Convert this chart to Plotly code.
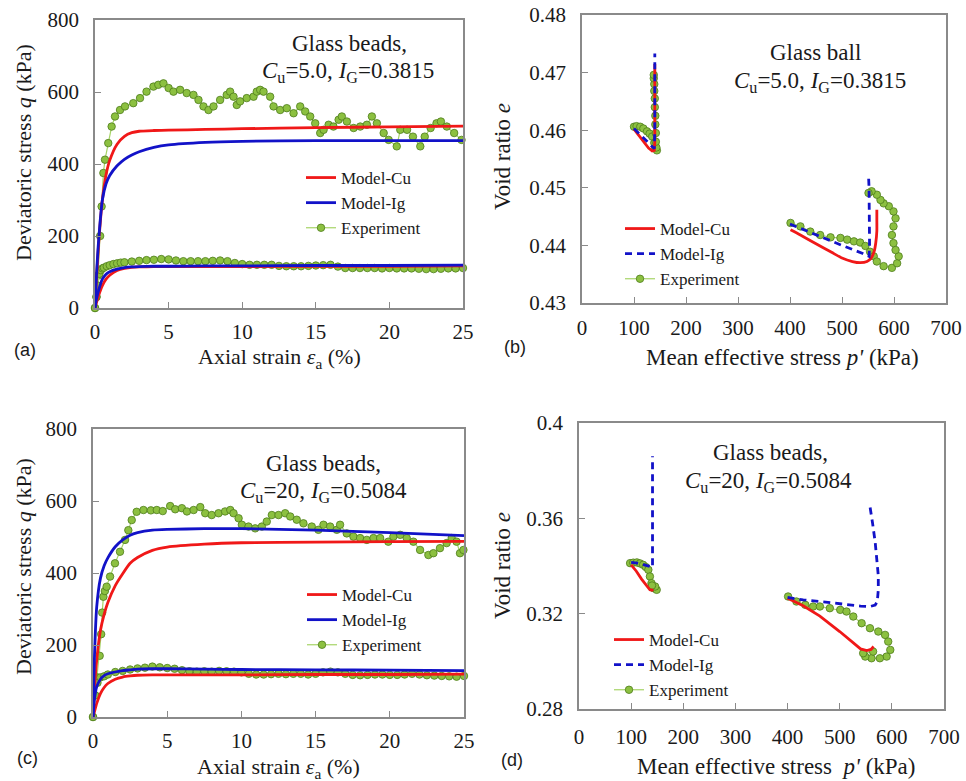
import plotly.graph_objects as go

W, H = 966, 781

# ---------------- Panel (a): q vs axial strain, Cu=5.0 ----------------
A_MOD_EPS = [0, 0.1, 0.25, 0.5, 0.75, 1, 1.5, 2, 2.5, 3, 4, 5, 7.5, 10, 15, 20, 25]
A_CU_HI = [0, 80, 180, 300, 370, 410, 455, 477, 487, 491, 493, 494, 496, 498, 501, 503, 505]
A_IG_HI = [0, 90, 190, 300, 345, 368, 395, 413, 425, 434, 446, 453, 460, 463, 465, 465, 465]
A_CU_LO = [0, 15, 35, 62, 80, 91, 104, 110, 113, 114, 115, 115, 115, 115, 116, 116, 117]
A_IG_LO = [0, 25, 50, 80, 94, 101, 108, 112, 114, 115, 116, 116, 117, 117, 118, 118, 119]

A_EXP_HI_EPS = [0, 0.1, 0.2, 0.35, 0.45, 0.57, 0.68, 0.9, 1.13, 1.36, 1.7, 2.04, 2.6, 3.06, 3.5,
                3.97, 4.3, 4.65, 5.0, 5.33, 5.78, 6.23, 6.69, 7.03, 7.37, 7.71, 8.05, 8.5, 8.95, 9.18,
                9.41, 9.63, 9.86, 10.31, 10.77, 10.99, 11.22, 11.45, 11.9, 12.13, 12.58, 13.03, 13.49,
                13.94, 14.28, 14.62, 14.96, 15.3, 15.53, 15.87, 16.2, 16.55, 16.77, 17.11, 17.57, 18.02,
                18.47, 18.81, 19.15, 19.61, 19.95, 20.5, 20.74, 21.2, 21.6, 22.1, 22.4, 22.8, 23.2, 23.5,
                23.9, 24.4, 24.9]
A_EXP_HI_Q = [0, 30, 90, 200, 282, 375, 412, 458, 504, 532, 550, 560, 569, 583, 601,
              615, 620, 624, 611, 601, 606, 597, 592, 578, 560, 550, 560, 578, 592, 601,
              587, 564, 574, 583, 587, 601, 606, 601, 587, 560, 550, 555, 541,
              560, 546, 532, 513, 486, 495, 509, 504, 523, 532, 518, 500, 504,
              509, 532, 513, 486, 467, 449, 495, 495, 476, 449, 476, 500, 513, 518,
              504, 486, 467]
A_EXP_LO_EPS = [0, 0.1, 0.2, 0.3, 0.4, 0.5, 0.6, 0.8, 1.0, 1.25, 1.5, 1.75, 2, 2.5, 3, 3.5, 4, 4.5,
                5, 5.5, 6, 6.5, 7, 7.5, 8, 8.5, 9, 9.5, 10, 10.5, 11, 11.5, 12, 12.5, 13, 13.5, 14,
                14.5, 15, 15.5, 16, 16.5, 17, 17.5, 18, 18.5, 19, 19.5, 20, 20.5, 21, 21.5, 22, 22.5,
                23, 23.5, 24, 24.5, 25]
A_EXP_LO_Q = [0, 32, 62, 95, 105, 110, 112, 116, 119, 122, 124, 126, 127, 129, 131, 133, 134, 136,
              135, 132, 130, 130, 130, 130, 131, 132, 130, 125, 122, 120, 120, 120, 120, 117, 116, 116, 116,
              117, 118, 119, 120, 115, 111, 111, 111, 111, 111, 110, 111, 110, 110, 110, 109, 108,
              108, 109, 110, 110, 111]

# ---------------- Panel (b): e vs p', Cu=5.0 ----------------
B_CU_LO_P = [100, 110, 120, 128, 135, 139, 140, 140, 140, 140]
B_CU_LO_E = [0.4602, 0.4590, 0.4578, 0.4569, 0.4564, 0.4565, 0.4580, 0.4620, 0.4680, 0.4715]
B_IG_LO_P = [100, 120, 139, 140, 140, 140]
B_IG_LO_E = [0.4603, 0.4585, 0.4568, 0.4600, 0.4680, 0.4733]
B_CU_HI_P = [401, 420, 450, 480, 500, 520, 535, 548, 556, 562, 565, 567, 567, 567]
B_CU_HI_E = [0.4427, 0.4418, 0.4403, 0.4388, 0.4378, 0.4372, 0.4370, 0.4372, 0.4378, 0.4390,
             0.4405, 0.4425, 0.4445, 0.4462]
B_IG_HI_P = [400, 450, 500, 540, 552, 553, 553, 552, 551]
B_IG_HI_E = [0.4437, 0.4418, 0.4400, 0.4386, 0.4381, 0.4400, 0.4450, 0.4500, 0.4522]
B_EXP_LO_P = [100, 105, 112, 118, 125, 130, 135, 139, 141, 144, 143, 142, 142, 141, 141, 140,
              140, 139, 139, 138, 138]
B_EXP_LO_E = [0.4606, 0.4607, 0.4606, 0.4603, 0.4598, 0.4594, 0.4589, 0.4578, 0.4569, 0.4565,
              0.4570, 0.4580, 0.4595, 0.4610, 0.4625, 0.4640, 0.4655, 0.4668, 0.4680, 0.4690, 0.4696]
B_EXP_HI_P = [401, 420, 439, 458, 478, 497, 510, 523, 535, 545, 554, 561, 567, 580, 596, 606, 609,
              603, 599, 596, 599, 603, 599, 590, 580, 574, 567, 557, 551]
B_EXP_HI_E = [0.4439, 0.4433, 0.4424, 0.4418, 0.4414, 0.4413, 0.4410, 0.4407, 0.4405, 0.4399,
              0.4389, 0.4381, 0.4372, 0.4364, 0.4361, 0.4369, 0.4381, 0.4392, 0.4404, 0.4418,
              0.4433, 0.4447, 0.4459, 0.4468, 0.4473, 0.4479, 0.4488, 0.4494, 0.4491]

# ---------------- Panel (c): q vs axial strain, Cu=20 ----------------
C_MOD_EPS = [0, 0.1, 0.25, 0.5, 0.75, 1, 1.5, 2, 2.5, 3, 4, 5, 7.5, 10, 15, 20, 25]
C_CU_HI = [0, 80, 158, 240, 285, 318, 365, 398, 427, 443, 463, 472, 480, 484, 486, 487, 488]
C_IG_HI = [0, 170, 306, 385, 420, 442, 473, 492, 505, 512, 519, 521, 523, 523, 519, 512, 504]
C_CU_LO = [0, 15, 38, 65, 82, 93, 105, 111, 114, 116, 117, 117, 117, 117, 118, 118, 119]
C_IG_LO = [0, 50, 84, 105, 115, 120, 125, 129, 131, 133, 134, 134, 133, 132, 131, 130, 129]

C_EXP_HI_EPS = [0, 0.15, 0.3, 0.45, 0.55, 0.62, 0.7, 0.8, 0.92, 1.15, 1.48, 1.82, 2.16, 2.38, 2.61,
                2.94, 3.4, 3.9, 4.3, 4.7, 5.2, 5.54, 5.99, 6.33, 6.78, 7.23, 7.56, 8.0, 8.46, 8.9,
                9.25, 9.47, 9.81, 10.03, 10.48, 10.93, 11.38, 11.71, 12.05, 12.5, 12.95, 13.29, 13.73,
                14.18, 14.74, 15.19, 15.53, 15.98, 16.43, 16.65, 17.1, 17.55, 18.0, 18.45, 18.9, 19.35,
                19.9, 20.24, 20.7, 21.14, 21.59, 22.04, 22.6, 22.94, 23.38, 23.83, 24.17, 24.5, 24.73,
                24.96]
C_EXP_HI_Q = [0, 60, 110, 170, 230, 290, 334, 350, 362, 390, 427, 459, 492, 519, 547,
              570, 575, 574, 575, 572, 586, 577, 580, 571, 575, 583, 566, 561, 566, 571,
              575, 566, 552, 534, 529, 524, 529, 543, 561, 561, 566, 557, 548,
              538, 529, 520, 534, 529, 520, 534, 510, 501, 497, 492, 497, 497,
              487, 501, 506, 497, 487, 464, 450, 455, 469, 483, 497, 487, 455,
              464]
C_EXP_LO_EPS = [0, 0.15, 0.3, 0.5, 0.75, 1, 1.5, 2, 2.5, 3, 3.5, 4, 4.5, 5, 5.5, 6, 6.5, 7, 7.5, 8,
                8.5, 9, 9.5, 10, 10.5, 11, 11.5, 12, 12.5, 13, 13.5, 14, 14.5, 15, 15.5, 16, 16.5, 17,
                17.5, 18, 18.5, 19, 19.5, 20, 20.5, 21, 21.5, 22, 22.5, 23, 23.5, 24, 24.5, 25]
C_EXP_LO_Q = [0, 60, 95, 110, 113, 118, 125, 128, 132, 135, 137, 140, 138, 136, 134, 130, 127, 126,
              127, 126, 128, 127, 126, 124, 120, 118, 118, 119, 120, 119, 120, 120, 118, 120, 124, 126,
              124, 120, 117, 116, 117, 118, 118, 117, 117, 118, 120, 118, 116, 115, 114, 113, 112, 114]

# ---------------- Panel (d): e vs p', Cu=20 ----------------
D_CU_LO_P = [100, 110, 120, 130, 136, 140, 142]
D_CU_LO_E = [0.3405, 0.3378, 0.3345, 0.3315, 0.3300, 0.3298, 0.3303]
D_IG_LO_P = [100, 112, 125, 135, 141, 141, 141, 141]
D_IG_LO_E = [0.3415, 0.3412, 0.3405, 0.3400, 0.3395, 0.3500, 0.3700, 0.3860]
D_CU_HI_P = [400, 430, 462, 500, 540, 552, 560, 565]
D_CU_HI_E = [0.3265, 0.3233, 0.3190, 0.3125, 0.3052, 0.3045, 0.3050, 0.3062]
D_IG_HI_P = [400, 430, 462, 513, 540, 558, 568, 572, 574, 574, 572, 568, 563, 558]
D_IG_HI_E = [0.3268, 0.3258, 0.3251, 0.3237, 0.3232, 0.3230, 0.3236, 0.3250, 0.3300, 0.3360,
             0.3420, 0.3500, 0.3580, 0.3650]
D_EXP_LO_P = [98, 104, 111, 117, 123, 128, 133, 136, 139, 143, 149, 146, 140]
D_EXP_LO_E = [0.3412, 0.3414, 0.3415, 0.3411, 0.3405, 0.3396, 0.3384, 0.3356, 0.3328, 0.3307,
              0.3300, 0.3314, 0.3318]
D_EXP_HI_P = [401, 417, 434, 449, 462, 481, 501, 513, 526, 542, 558, 574, 587, 593, 597, 590,
              577, 561, 549, 545, 564]
D_EXP_HI_E = [0.3272, 0.3251, 0.3237, 0.3230, 0.3230, 0.3223, 0.3216, 0.3209, 0.3188, 0.3160,
              0.3139, 0.3125, 0.3111, 0.3083, 0.3048, 0.3020, 0.3013, 0.3013, 0.3020, 0.3034, 0.3041]

# ---------------- style ----------------
RED = "#f01818"
BLUE = "#1212c8"
GREEN = "#8cc040"
GREEN_EDGE = "#4e7c1c"
GREEN_LINE = "#a6d466"
SERIF = "Liberation Serif"
SANS = "Liberation Sans"
TXT = "#1a1a1a"

fig = go.Figure()


def model(x, y, name, color, ax, legend, show, dash="solid", rank=1):
    fig.add_trace(go.Scatter(
        x=x, y=y, mode="lines", name=name,
        line=dict(color=color, width=2.8, dash=dash, shape="spline", smoothing=0.6),
        xaxis=ax[0], yaxis=ax[1], legend=legend, showlegend=show, legendrank=rank, hoverinfo="skip"))


def model_lin(x, y, name, color, ax, legend, show, dash="solid", rank=1):
    fig.add_trace(go.Scatter(
        x=x, y=y, mode="lines", name=name, line=dict(color=color, width=2.8, dash=dash),
        xaxis=ax[0], yaxis=ax[1], legend=legend, showlegend=show, legendrank=rank, hoverinfo="skip"))


def exp(x, y, ax, legend, show):
    fig.add_trace(go.Scatter(
        x=x, y=y, mode="lines+markers", name="Experiment",
        line=dict(color=GREEN_LINE, width=1.2),
        marker=dict(size=7.5, color=GREEN, line=dict(color=GREEN_EDGE, width=0.8)),
        xaxis=ax[0], yaxis=ax[1], legend=legend, showlegend=show, legendrank=3,
        cliponaxis=False, hoverinfo="skip"))


# (a)
ax = ("x", "y")
exp(A_EXP_HI_EPS, A_EXP_HI_Q, ax, "legend", True)
exp(A_EXP_LO_EPS, A_EXP_LO_Q, ax, "legend", False)
model(A_MOD_EPS, A_CU_HI, "Model-Cu", RED, ax, "legend", True, rank=1)
model(A_MOD_EPS, A_CU_LO, "Model-Cu", RED, ax, "legend", False, rank=1)
model(A_MOD_EPS, A_IG_HI, "Model-Ig", BLUE, ax, "legend", True, rank=2)
model(A_MOD_EPS, A_IG_LO, "Model-Ig", BLUE, ax, "legend", False, rank=2)

# (b)
ax = ("x2", "y2")
exp(B_EXP_HI_P, B_EXP_HI_E, ax, "legend2", True)
exp(B_EXP_LO_P, B_EXP_LO_E, ax, "legend2", False)
model(B_CU_HI_P, B_CU_HI_E, "Model-Cu", RED, ax, "legend2", True, rank=1)
model_lin(B_CU_LO_P, B_CU_LO_E, "Model-Cu", RED, ax, "legend2", False, rank=1)
model_lin(B_IG_HI_P, B_IG_HI_E, "Model-Ig", BLUE, ax, "legend2", True, dash="7px,5px", rank=2)
model_lin(B_IG_LO_P, B_IG_LO_E, "Model-Ig", BLUE, ax, "legend2", False, dash="7px,5px", rank=2)

# (c)
ax = ("x3", "y3")
exp(C_EXP_HI_EPS, C_EXP_HI_Q, ax, "legend3", True)
exp(C_EXP_LO_EPS, C_EXP_LO_Q, ax, "legend3", False)
model(C_MOD_EPS, C_CU_HI, "Model-Cu", RED, ax, "legend3", True, rank=1)
model(C_MOD_EPS, C_CU_LO, "Model-Cu", RED, ax, "legend3", False, rank=1)
model(C_MOD_EPS, C_IG_HI, "Model-Ig", BLUE, ax, "legend3", True, rank=2)
model(C_MOD_EPS, C_IG_LO, "Model-Ig", BLUE, ax, "legend3", False, rank=2)

# (d)
ax = ("x4", "y4")
exp(D_EXP_HI_P, D_EXP_HI_E, ax, "legend4", True)
exp(D_EXP_LO_P, D_EXP_LO_E, ax, "legend4", False)
model_lin(D_CU_HI_P, D_CU_HI_E, "Model-Cu", RED, ax, "legend4", True, rank=1)
model_lin(D_CU_LO_P, D_CU_LO_E, "Model-Cu", RED, ax, "legend4", False, rank=1)
model_lin(D_IG_HI_P, D_IG_HI_E, "Model-Ig", BLUE, ax, "legend4", True, dash="7px,5px", rank=2)
model_lin(D_IG_LO_P, D_IG_LO_E, "Model-Ig", BLUE, ax, "legend4", False, dash="7px,5px", rank=2)


def px_x(px):
    return px / W


def px_y(py):
    return 1 - py / H


def axis_common(**kw):
    d = dict(showline=True, linecolor="#8a8a8a", linewidth=1.5, mirror=True,
             ticks="inside", ticklen=6, tickcolor="#8a8a8a", tickwidth=1.2,
             showgrid=False, zeroline=False, automargin=False,
             tickfont=dict(family=SERIF, size=21, color=TXT))
    d.update(kw)
    return d


layout = dict(
    width=W, height=H, margin=dict(l=0, r=0, t=0, b=0, pad=0, autoexpand=False),
    paper_bgcolor="white", plot_bgcolor="white", showlegend=True,
    xaxis=axis_common(domain=[px_x(95), px_x(463)], range=[0, 25], dtick=5, anchor="y", ticklabelstandoff=4),
    yaxis=axis_common(domain=[px_y(308), px_y(20)], range=[0, 800], dtick=200, anchor="x", ticklabelstandoff=10),
    xaxis2=axis_common(domain=[px_x(582), px_x(946)], range=[0, 700], dtick=100, anchor="y2", ticklabelstandoff=5),
    yaxis2=axis_common(domain=[px_y(303), px_y(15)], range=[0.43, 0.48], dtick=0.01, anchor="x2", ticklabelstandoff=10),
    xaxis3=axis_common(domain=[px_x(93), px_x(464)], range=[0, 25], dtick=5, anchor="y3", ticklabelstandoff=4),
    yaxis3=axis_common(domain=[px_y(717), px_y(429)], range=[0, 800], dtick=200, anchor="x3", ticklabelstandoff=10),
    xaxis4=axis_common(domain=[px_x(579), px_x(944)], range=[0, 700], dtick=100, anchor="y4", ticklabelstandoff=8),
    yaxis4=axis_common(domain=[px_y(709), px_y(423)], range=[0.28, 0.40], dtick=0.04, anchor="x4", ticklabelstandoff=10),
)

leg_common = dict(xanchor="left", yanchor="top", bgcolor="rgba(0,0,0,0)", borderwidth=0,
                  font=dict(family=SERIF, size=17, color=TXT), itemwidth=30, tracegroupgap=0)
layout["legend"] = dict(x=px_x(301), y=px_y(160), **leg_common)
layout["legend2"] = dict(x=px_x(620), y=px_y(211), **leg_common)
layout["legend3"] = dict(x=px_x(302), y=px_y(577), **leg_common)
layout["legend4"] = dict(x=px_x(609), y=px_y(622), **leg_common)

fig.update_layout(**layout)


def ann(text, x, y, size=23, family=SERIF, angle=0):
    fig.add_annotation(text=text, x=px_x(x), y=px_y(y), xref="paper", yref="paper",
                       xanchor="center", yanchor="middle", showarrow=False, textangle=angle,
                       font=dict(family=family, size=size, color=TXT))


CU5 = "<i>C</i><sub>u</sub>=5.0, <i>I</i><sub>G</sub>=0.3815"
CU20 = "<i>C</i><sub>u</sub>=20, <i>I</i><sub>G</sub>=0.5084"
QLAB = "Deviatoric stress <i>q</i> (kPa)"
ELAB = "Void ratio <i>e</i>"
EPSLAB = "Axial strain <i>ε</i><sub>a</sub> (%)"
PLAB = "Mean effective stress <i>p'</i> (kPa)"
PLAB2 = "Mean effective stress  <i>p'</i> (kPa)"

# in-plot titles
ann("Glass beads,", 349, 43)
ann(CU5, 348, 72)
ann("Glass ball", 815, 53)
ann(CU5, 820, 82)
ann("Glass beads,", 323, 463)
ann(CU20, 323, 492)
ann("Glass beads,", 770, 453)
ann(CU20, 768, 482)

# axis titles
ann(QLAB, 23, 153, size=22, angle=-90)
ann(EPSLAB, 279, 358, size=22)
ann(ELAB, 502, 156, angle=-90)
ann(PLAB, 782, 357)
ann(QLAB, 23, 567, size=22, angle=-90)
ann(EPSLAB, 278, 768, size=22)
ann(ELAB, 502, 565, angle=-90)
ann(PLAB2, 776, 766)

# panel labels
ann("(a)", 25, 350, size=18, family=SANS)
ann("(b)", 515, 347, size=18, family=SANS)
ann("(c)", 27, 758, size=18, family=SANS)
ann("(d)", 512, 760, size=18, family=SANS)

fig.write_html("out.html")
